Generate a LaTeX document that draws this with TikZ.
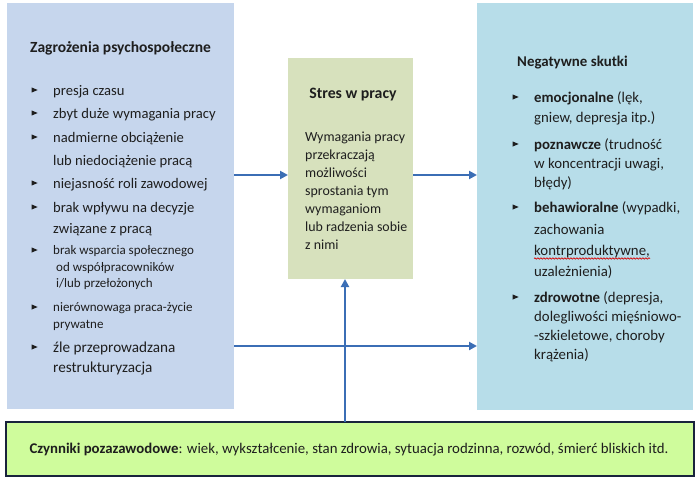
\documentclass[tikz,border=0pt]{standalone}
\usepackage{fontspec}
\setmainfont{Carlito}
\usetikzlibrary{arrows.meta,decorations.pathmorphing}
\definecolor{leftc}{RGB}{198,214,237}
\definecolor{midc}{RGB}{215,225,189}
\definecolor{rightc}{RGB}{183,221,233}
\definecolor{botc}{RGB}{207,252,156}
\definecolor{botb}{RGB}{25,35,60}
\definecolor{arrc}{RGB}{59,110,181}
\definecolor{txtc}{RGB}{30,30,30}
\newcommand\bulx[2]{\fill[txtc] (#1-3,#2-2.6) -- (#1+3.2,#2) -- (#1-3,#2+2.6) -- cycle;}
\begin{document}
\begin{tikzpicture}[x=1pt,y=-1pt,
  panel/.style={inner sep=0pt, outer sep=0pt, anchor=north west},
  tl/.style={anchor=base west, inner sep=0pt, text=txtc, font=\fontsize{14.6}{16}\selectfont},
  ts/.style={anchor=base west, inner sep=0pt, text=txtc, font=\fontsize{13}{15}\selectfont},
  tm/.style={anchor=base west, inner sep=0pt, text=txtc, font=\fontsize{13.9}{16}\selectfont},
  tr/.style={anchor=base west, inner sep=0pt, text=txtc, font=\fontsize{14.8}{16}\selectfont},
  arr/.style={draw=arrc, line width=2pt, -{Triangle[length=8pt,width=8pt]}},
]
\useasboundingbox (0,0) rectangle (700,479);
\fill[white] (0,0) rectangle (700,479);
% panels
\node[panel, fill=leftc, minimum width=227pt, minimum height=406pt] (left) at (7,3) {};
\node[panel, fill=midc, minimum width=125pt, minimum height=221pt] (mid) at (288,58) {};
\node[panel, fill=rightc, minimum width=216pt, minimum height=407pt] (right) at (477,3) {};
\node[panel, fill=botc, draw=botb, line width=2pt, minimum width=688pt, minimum height=54pt] (bot) at (6,422) {};
% arrows
\coordinate (ya) at (0,175);
\coordinate (yb) at (0,346);
\coordinate (xv) at (345,0);
\draw[arr] (left.east |- ya) -- (mid.west |- ya);
\draw[arr] (mid.east |- ya) -- (right.west |- ya);
\draw[arr] (left.east |- yb) -- (right.west |- yb);
\draw[arr] (bot.north -| xv) -- (mid.south -| xv);
% left texts
\node[tl, font=\bfseries\fontsize{15.5}{17}\selectfont] (lt) at (30,52) {Zagrożenia psychospołeczne};
\bulx{34.5}{90}\bulx{34.5}{113}\bulx{34.5}{137}\bulx{34.5}{183}\bulx{34.5}{207}\bulx{34.5}{250}\bulx{34.5}{307}\bulx{34.5}{347}
\node[tl] (l1) at (53,95) {presja czasu};
\node[tl] (l2) at (53,118) {zbyt duże wymagania pracy};
\node[tl] (l3) at (53,142) {nadmierne obciążenie};
\node[tl] (l4) at (53,165) {lub niedociążenie pracą};
\node[tl] (l5) at (53,188) {niejasność roli zawodowej};
\node[tl] (l6) at (53,212) {brak wpływu na decyzje};
\node[tl] (l7) at (53,233) {związane z pracą};
\node[ts] (l8) at (53,254.5) {brak wsparcia społecznego};
\node[ts] (l9) at (56,271.5) {od współpracowników};
\node[ts] (l10) at (56,287.5) {i/lub przełożonych};
\node[ts] (l11) at (53,311.5) {nierównowaga praca-życie};
\node[ts] (l12) at (53,328.5) {prywatne};
\node[tl, font=\fontsize{15.2}{17}\selectfont] (l13) at (53,352) {źle przeprowadzana};
\node[tl, font=\fontsize{15.2}{17}\selectfont] (l14) at (53,372) {restrukturyzacja};
% middle texts
\node[anchor=base, inner sep=0pt, text=txtc, font=\bfseries\fontsize{15.8}{17}\selectfont] (mt) at (353,98.5) {Stres w pracy};
\node[tm] (m1) at (305,141) {Wymagania pracy};
\node[tm] (m2) at (305,159) {przekraczają};
\node[tm] (m3) at (305,177) {możliwości};
\node[tm] (m4) at (305,195) {sprostania tym};
\node[tm] (m5) at (305,213) {wymaganiom};
\node[tm] (m6) at (305,231) {lub radzenia sobie};
\node[tm] (m7) at (305,249) {z nimi};
% right texts
\node[tr, font=\bfseries\fontsize{14.9}{16}\selectfont] (rt) at (517,66) {Negatywne skutki};
\bulx{515.5}{97}\bulx{515.5}{144}\bulx{515.5}{207}\bulx{515.5}{297}
\node[tr] (r1) at (534,102) {\textbf{emocjonalne} (lęk,};
\node[tr] (r2) at (534,122) {gniew, depresja itp.)};
\node[tr] (r3) at (534,149) {\textbf{poznawcze} (trudność};
\node[tr] (r4) at (534,168) {w koncentracji uwagi,};
\node[tr] (r5) at (534,187) {błędy)};
\node[tr] (r6) at (534,212) {\textbf{behawioralne} (wypadki,};
\node[tr] (r7) at (534,234) {zachowania};
\node[tr] (r8) at (534,255) {kontrproduktywne,};
\node[tr] (r9) at (534,276) {uzależnienia)};
\node[tr] (r10) at (534,302) {\textbf{zdrowotne} (depresja,};
\node[tr] (r11) at (534,321) {dolegliwości mięśniowo-};
\node[tr] (r12) at (534,340) {-szkieletowe, choroby};
\node[tr] (r13) at (534,359) {krążenia)};
\draw[red!85!black, line width=0.7pt, decorate, decoration={snake, amplitude=0.7pt, segment length=3pt}] (r8.base west) ++(0,3.5) -- ++(116,0);
% bottom text
\node[anchor=base, inner sep=0pt, text=txtc, font=\fontsize{14.8}{16}\selectfont] (bt) at (349,453.5) {\textbf{Czynniki pozazawodowe}: wiek, wykształcenie, stan zdrowia, sytuacja rodzinna, rozwód, śmierć bliskich itd.};
\end{tikzpicture}
\end{document}
